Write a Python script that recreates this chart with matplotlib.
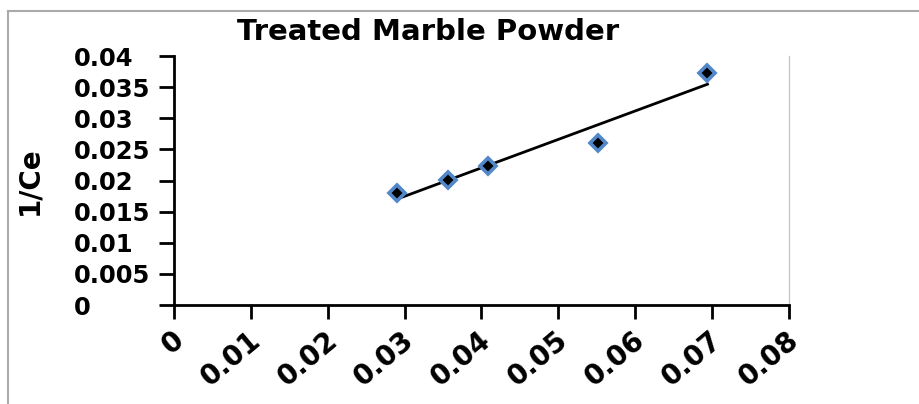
import numpy as np
import matplotlib
matplotlib.use("Agg")
import matplotlib.pyplot as plt
import matplotlib.transforms as mtransforms
from matplotlib.lines import Line2D

# valori
x_vals = [0.0290, 0.0357, 0.0408, 0.0551, 0.0694]
y_vals = [0.0180, 0.0201, 0.0224, 0.0261, 0.0373]
x_ticks = [0, 0.01, 0.02, 0.03, 0.04, 0.05, 0.06, 0.07, 0.08]
y_ticks = [0, 0.005, 0.01, 0.015, 0.02, 0.025, 0.03, 0.035, 0.04]
x_tick_labels = ["0", "0.01", "0.02", "0.03", "0.04", "0.05", "0.06", "0.07", "0.08"]
y_tick_labels = ["0", "0.005", "0.01", "0.015", "0.02", "0.025", "0.03", "0.035", "0.04"]

plt.rcParams["font.family"] = ["DejaVu Sans"]
plt.rcParams["font.weight"] = "bold"

fig = plt.figure(figsize=(9.19, 4.04), dpi=100)
ax = fig.add_axes([0.1893, 0.245, 0.6692, 0.6163])

x = np.array(x_vals)
y = np.array(y_vals)

# dreapta de regresie (trendline liniar)
slope, intercept = np.polyfit(x, y, 1)
xf = np.array([x.min(), x.max()])
ax.plot(xf, slope * xf + intercept, "-", color="black", lw=2, zorder=2)

ax.plot(x, y, "D", ms=8, mfc="black", mec="#5288c9", mew=2.6, zorder=3)

ax.set_xlim(0, 0.08)
ax.set_ylim(0, 0.04)
ax.set_xticks(x_ticks)
ax.set_xticklabels(x_tick_labels, rotation=40, ha="right", va="top",
                   rotation_mode="anchor", fontsize=20, fontweight="bold")
ax.set_yticks(y_ticks)
ax.set_yticklabels(y_tick_labels, fontsize=17.5, fontweight="bold", ha="left")
ax.tick_params(axis="y", direction="out", length=11, width=2, pad=61)
ax.tick_params(axis="x", direction="out", length=10, width=2, pad=5)

# etichetele de pe x putin mutate la stanga
shift = mtransforms.ScaledTranslation(-3 / 100, 0, fig.dpi_scale_trans)
for lab in ax.get_xticklabels():
    lab.set_transform(lab.get_transform() + shift)

ax.spines["left"].set_linewidth(2)
ax.spines["bottom"].set_linewidth(2)
ax.spines["top"].set_visible(False)
ax.spines["right"].set_color("#c8c8c8")
ax.spines["right"].set_linewidth(1)

ax.set_ylabel("1/Ce", fontsize=20, fontweight="bold")
ax.yaxis.set_label_coords(-0.213, 0.50)
fig.text(0.4657, 0.92, "Treated Marble Powder", ha="center", va="center",
         fontsize=21, fontweight="bold")

# chenar gri (doar sus si stanga vizibile)
fig.add_artist(Line2D([0.0087, 1.0], [0.9728, 0.9728], color="#aaaaaa", lw=1.5))
fig.add_artist(Line2D([0.0087, 0.0087], [0.0, 0.9728], color="#aaaaaa", lw=1.5))

fig.savefig("out.png", dpi=100)
